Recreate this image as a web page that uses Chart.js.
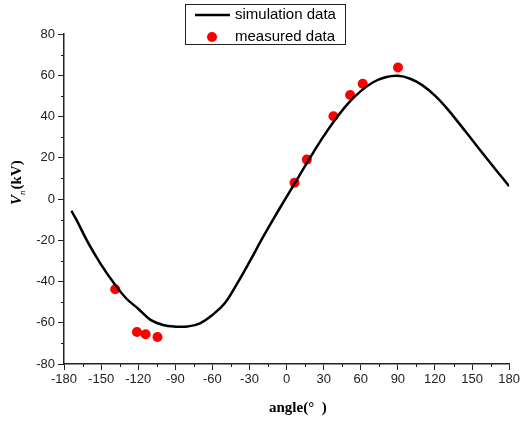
<!DOCTYPE html>
<html>
<head>
<meta charset="utf-8">
<script src="https://cdn.jsdelivr.net/npm/chart.js@4.4.1/dist/chart.umd.min.js"></script>
<style>
  html, body { margin: 0; padding: 0; background: #fff; }
  #wrap { width: 522px; height: 421px; position: relative; }
</style>
</head>
<body>
<div id="wrap"><canvas id="vn_chart"></canvas></div>
<script>
// simulation curve (angle in degrees, Vn in kV)
var simAngle = [-174,-170,-160,-150,-140,-130,-120,-110,-100,-90,-80,-70,-60,-50,-40,-30,-20,-10,0,10,20,30,40,50,60,70,80,90,100,110,120,130,140,150,160,170,180];
var simVn = [-5.7,-10,-21.8,-31.8,-40.5,-48,-53.2,-58.6,-61.1,-61.9,-61.8,-60.3,-56.2,-50.5,-41,-30.5,-19.5,-9,1,11,21,30.5,39,46.5,52.3,56.6,59,59.7,58.3,55.1,50.1,43.7,36.3,28.7,21.1,13.6,6.2];

// measured points
var measAngle = [-138.6,-121,-114,-104.4,6.4,16.4,37.9,51.4,61.6,90.1];
var measVn = [-43.8,-64.5,-65.6,-66.9,7.9,19.1,40.1,50.4,55.9,63.8];

var legendNames = ['simulation data', 'measured data'];

function toXY(xs, ys){
    var out = [];
    for (var i = 0; i < xs.length; i++) out.push({x: xs[i], y: ys[i]});
    return out;
}

// minor ticks + legend + axis titles
var extras = {
    id: 'extras',
    afterDraw: function(chart){
        var c = chart.ctx;
        var xs = chart.scales.x, ys = chart.scales.y;
        var a = chart.chartArea;
        c.save();
        c.strokeStyle = '#222';
        c.lineWidth = 1;
        // minor ticks
        for (var v = -165; v < 180; v += 30) {
            var px = Math.round(xs.getPixelForValue(v)) + 0.5;
            c.beginPath(); c.moveTo(px, a.bottom); c.lineTo(px, a.bottom + 3); c.stroke();
        }
        for (var w = -70; w < 80; w += 20) {
            var py = Math.round(ys.getPixelForValue(w)) + 0.5;
            c.beginPath(); c.moveTo(a.left, py); c.lineTo(a.left - 3, py); c.stroke();
        }

        // legend box
        c.fillStyle = '#fff';
        c.fillRect(185, 4, 160, 40);
        c.strokeRect(185.5, 4.5, 160, 40);
        c.strokeStyle = '#000';
        c.lineWidth = 2.5;
        c.beginPath(); c.moveTo(195, 15); c.lineTo(230, 15); c.stroke();
        c.fillStyle = '#ff0000';
        c.beginPath(); c.arc(212, 37, 5, 0, Math.PI * 2); c.fill();
        c.fillStyle = '#000';
        c.font = '15px "Liberation Sans", Arial, sans-serif';
        c.textBaseline = 'middle';
        c.textAlign = 'left';
        c.fillText(legendNames[0], 235, 15);
        c.fillText(legendNames[1], 235, 37);

        // x title
        c.font = 'bold 15px "Liberation Serif", "Times New Roman", serif';
        c.textBaseline = 'alphabetic';
        c.fillText('angle(°  )', 269, 412);

        // y title, rotated
        c.translate(21, 205);
        c.rotate(-Math.PI / 2);
        var x0 = 0;
        c.font = 'italic bold 15px "Liberation Serif", "Times New Roman", serif';
        c.fillText('V', x0, 0);
        x0 += c.measureText('V').width;
        c.font = 'italic 9px "Liberation Serif", "Times New Roman", serif';
        c.fillText('n', x0, 4);
        x0 += c.measureText('n').width + 1;
        c.font = 'bold 15px "Liberation Serif", "Times New Roman", serif';
        c.fillText('(kV)', x0, 0);
        c.restore();
    }
};

var tickFont = { family: '"Liberation Sans", Arial, sans-serif', size: 13 };

var chart = new Chart(document.getElementById('vn_chart'), {
    type: 'scatter',
    data: {
        datasets: [
            {
                label: legendNames[0],
                data: toXY(simAngle, simVn),
                showLine: true,
                borderColor: '#000',
                borderWidth: 2.5,
                pointRadius: 0,
                tension: 0.4,
                fill: false
            },
            {
                label: legendNames[1],
                data: toXY(measAngle, measVn),
                showLine: false,
                backgroundColor: '#ff0000',
                borderWidth: 0,
                pointRadius: 5
            }
        ]
    },
    options: {
        responsive: true,
        maintainAspectRatio: false,
        animation: false,
        layout: { padding: { top: 34, right: 12, left: 0, bottom: 0 } },
        plugins: { legend: { display: false }, tooltip: { enabled: false } },
        scales: {
            x: {
                type: 'linear', min: -180, max: 180,
                afterFit: function(s){ s.height = 57; },
                ticks: {
                    stepSize: 30, autoSkip: false, maxRotation: 0, padding: 2,
                    color: '#222', font: tickFont
                },
                grid: { drawOnChartArea: false, drawTicks: true, tickLength: 6, color: '#222' },
                border: { display: true, color: '#222', width: 1.5 }
            },
            y: {
                min: -80, max: 80,
                afterFit: function(s){ s.width = 64; },
                ticks: {
                    stepSize: 20, autoSkip: false, padding: 3,
                    color: '#222', font: tickFont
                },
                grid: { drawOnChartArea: false, drawTicks: true, tickLength: 6, color: '#222' },
                border: { display: true, color: '#222', width: 1.5 }
            }
        }
    },
    plugins: [extras]
});
</script>
</body>
</html>
